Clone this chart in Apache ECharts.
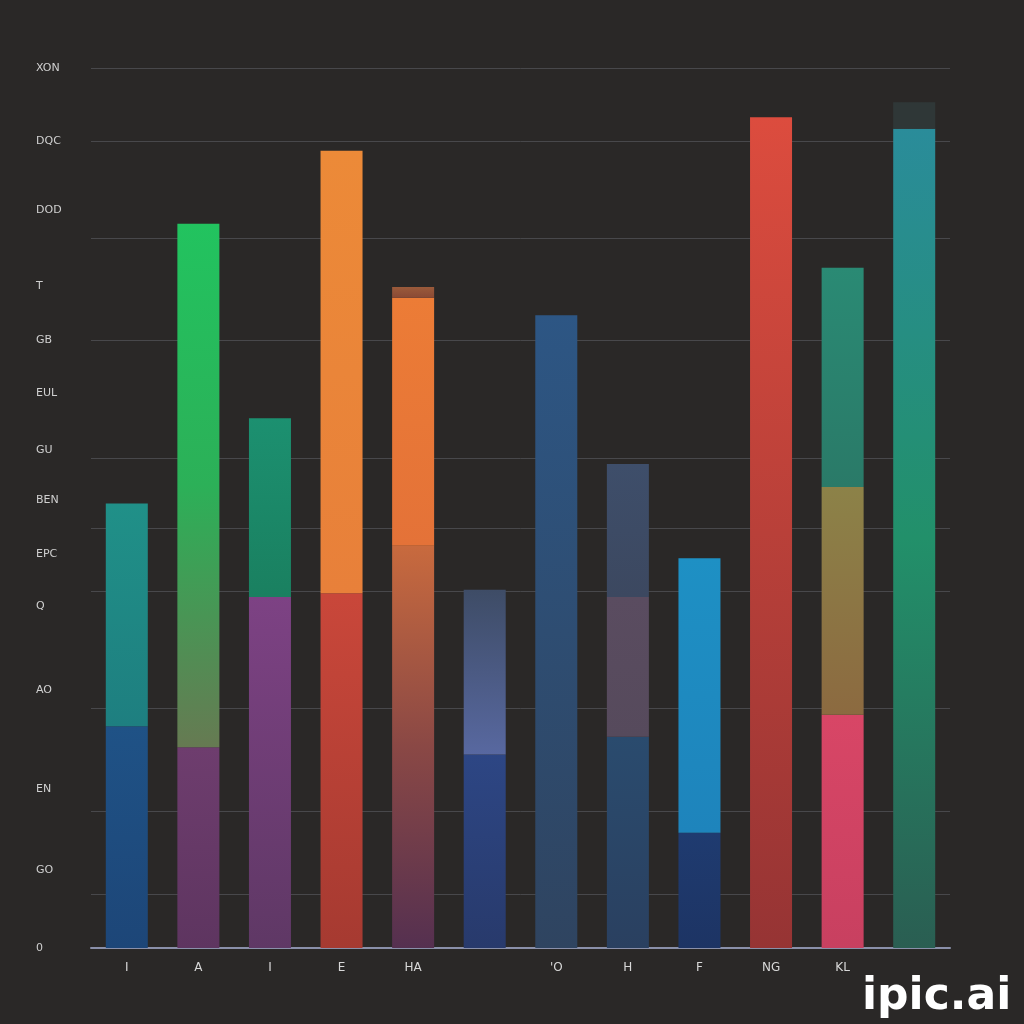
<!DOCTYPE html>
<html>
<head>
<meta charset="utf-8">
<script src="https://cdn.jsdelivr.net/npm/echarts@6/dist/echarts.min.js"></script>
<style>html,body{margin:0;padding:0;background:#2a2827;}#c{width:1024px;height:1024px;}</style>
</head>
<body>
<div id="c"></div>
<script>
// ---- data ----
const categories = ["I", "A", "I", "E", "HA", "", "'O", "H", "F", "NG", "KL", ""];
const seg1 = [252, 228, 399, 403, 457, 220, 719, 240, 131, 944, 265, 931];
const seg2 = [253, 595, 203, 503, 282, 187, null, 159, 312, null, 259, 30];
const seg3 = [null, null, null, null, 12, null, null, 151, null, null, 249, null];
const yTickLabels = ["XON", "DQC", "DOD", "T", "GB", "EUL", "GU", "BEN", "EPC", "Q", "AO", "EN", "GO", "0"];
const yTickValues = [1000, 917, 838, 752, 691, 631, 566, 509, 447, 388, 293, 181, 89, 0];
const gridValues = [1000, 917, 807, 691, 557, 477, 405, 273, 155, 61];

// ---- colours (top -> bottom) ----
const seg1Colors = [
  ['#1f5286', '#1d4678'], ['#6e3d6e', '#5e3560'], ['#7d4284', '#5f3865'],
  ['#c9473a', '#a63a31'], ['#c86a3e', '#8a4845', '#553050'], ['#2d4684', '#283a6c'],
  ['#2d5684', '#2f4460'], ['#2a4b6e', '#2a4060'], ['#1f3b70', '#1d3464'],
  ['#dc4c3e', '#963434'], ['#d84666', '#c84060'], ['#2a8c9a', '#22906a', '#2a5e52']
];
const seg2Colors = [
  ['#209088', '#1e7f80'], ['#22c35f', '#2cb058', '#667a52'], ['#1c9070', '#1a8060'],
  ['#ec8a38', '#e8803a'], ['#ec7c36', '#e47238'], ['#3e4c66', '#5868a0'],
  null, ['#5a4c60', '#564a5c'], ['#1e90c4', '#1e84bc'],
  null, ['#8c8248', '#8c6a40'], ['#2f3737', '#2f3737']
];
const seg3Colors = [
  null, null, null, null, ['#9a5a3a', '#8a4a35'], null,
  null, ['#3e4e6a', '#3c4860'], null, null, ['#2a8a74', '#2a7a68'], null
];

function grad(cols) {
  const stops = cols.map((c, i) => ({ offset: i / (cols.length - 1), color: c }));
  return { type: 'linear', x: 0, y: 0, x2: 0, y2: 1, colorStops: stops };
}
function items(vals, cols) {
  return vals.map((v, i) => v == null ? '-' : { value: v, itemStyle: { color: grad(cols[i]) } });
}

const gridLineData = gridValues.map(v => ({
  yAxis: v, label: { show: false },
  lineStyle: { color: '#48484b', width: 1, type: 'solid' }
}));
const labelData = yTickValues.map((v, i) => ({
  yAxis: v,
  lineStyle: { color: 'rgba(0,0,0,0)', width: 0 },
  label: {
    show: true, position: 'start', formatter: yTickLabels[i], align: 'left',
    distance: 55, color: '#d0d0d0', fontSize: 11, fontFamily: 'DejaVu Sans'
  }
}));

const chart = echarts.init(document.getElementById('c'));
chart.setOption({
  backgroundColor: '#2a2827',
  animation: false,
  grid: { left: 91, right: 74, top: 68, bottom: 76 },
  xAxis: {
    type: 'category', data: categories,
    axisLine: { show: true, lineStyle: { color: '#8a90aa', width: 2 } },
    axisTick: { show: false },
    axisLabel: { color: '#d8d8d8', fontSize: 12, margin: 14, fontFamily: 'DejaVu Sans' }
  },
  yAxis: {
    type: 'value', min: 0, max: 1000,
    axisLine: { show: false }, axisTick: { show: false },
    axisLabel: { show: false }, splitLine: { show: false }
  },
  series: [
    {
      type: 'bar', stack: 'total', barWidth: 42, clip: false, data: items(seg1, seg1Colors),
      markLine: { silent: true, symbol: 'none', z: 1, animation: false, data: gridLineData.concat(labelData) }
    },
    { type: 'bar', stack: 'total', barWidth: 42, data: items(seg2, seg2Colors) },
    { type: 'bar', stack: 'total', barWidth: 42, data: items(seg3, seg3Colors) }
  ],
  graphic: [{
    type: 'text', left: 862, top: 976,
    style: { text: 'ipic.ai', fill: '#ffffff', font: 'bold 44px "DejaVu Sans"' }
  }]
});
</script>
</body>
</html>
